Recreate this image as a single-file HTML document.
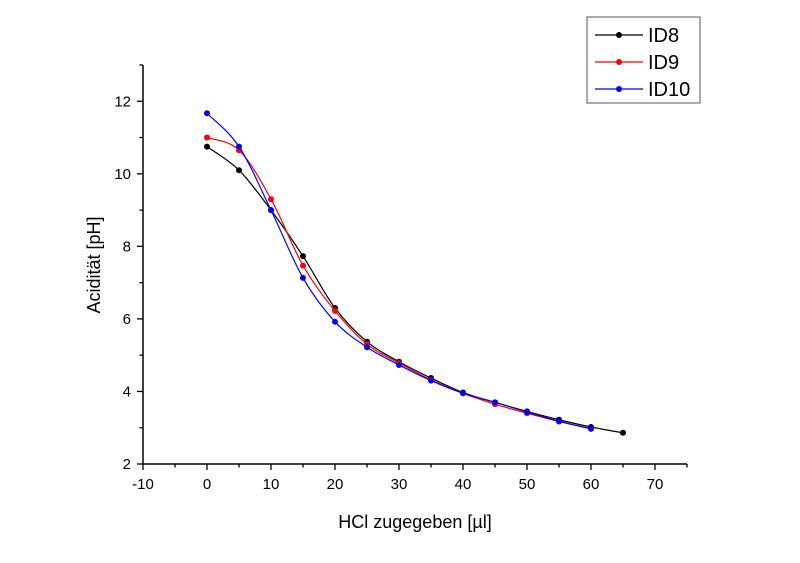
<!DOCTYPE html>
<html><head><meta charset="utf-8"><style>
body{margin:0;background:#fff;}
svg text{font-family:"Liberation Sans",Arial,sans-serif;}
</style></head><body>
<svg id="chart" width="800" height="558" viewBox="0 0 800 558" xmlns="http://www.w3.org/2000/svg">
<g id="axes"></g>
<g id="series"></g>
<g id="legend"></g>
<text x="0" y="0" transform="translate(100,265) rotate(-90)" text-anchor="middle" font-size="18">Acidität [pH]</text>
<text x="415" y="528" text-anchor="middle" font-size="18">HCl zugegeben [µl]</text>
</svg>
<script>
const xTicks = [-10,0,10,20,30,40,50,60,70];
const yTicks = [2,4,6,8,10,12];
const seriesNames = ["ID8","ID9","ID10"];
const seriesColors = ["#000000","#ff0000","#0000ff"];
const xID8 = [0,5,10,15,20,25,30,35,40,45,50,55,60,65];
const yID8 = [10.75,10.1,9.0,7.73,6.3,5.37,4.82,4.37,3.97,3.7,3.45,3.22,3.02,2.86];
const xID9 = [0,5,10,15,20,25,30,35,40,45,50,55,60];
const yID9 = [11.0,10.65,9.3,7.47,6.22,5.3,4.78,4.32,3.95,3.65,3.4,3.17,2.97];
const xID10 = [0,5,10,15,20,25,30,35,40,45,50,55,60];
const yID10 = [11.67,10.75,9.0,7.13,5.92,5.22,4.73,4.3,3.95,3.7,3.43,3.18,2.97];

const NS="http://www.w3.org/2000/svg";
const X0=143, XMIN=-10, XMAX=75, XR=687;
const Y0=464, YMIN=2, YMAX=13, YT=65;
function sx(v){return X0+(v-XMIN)*(XR-X0)/(XMAX-XMIN);}
function sy(v){return Y0-(v-YMIN)*(Y0-YT)/(YMAX-YMIN);}
function mk(tag,attrs,parent){const e=document.createElementNS(NS,tag);for(const k in attrs)e.setAttribute(k,attrs[k]);parent.appendChild(e);return e;}

const axes=document.getElementById('axes');
let l=mk('line',{x1:X0,y1:Y0,x2:XR,y2:Y0,stroke:'#000','stroke-width':1.5},axes);


l=mk('line',{x1:X0,y1:Y0,x2:X0,y2:YT,stroke:'#000','stroke-width':1.5},axes);


for(let v=XMIN;v<=XMAX;v+=5){
  const major=xTicks.includes(v);
  const t=mk('line',{x1:sx(v),y1:Y0,x2:sx(v),y2:Y0+(major?6:3.5),stroke:'#000','stroke-width':1.3},axes);
  
  
}
xTicks.forEach(v=>{
  const t=mk('text',{x:sx(v),y:Y0+25,'text-anchor':'middle','font-size':15},axes);
  t.textContent=v;
  
  
});
for(let v=YMIN;v<=YMAX;v+=1){
  const major=yTicks.includes(v);
  const t=mk('line',{x1:X0,y1:sy(v),x2:X0-(major?6:3.5),y2:sy(v),stroke:'#000','stroke-width':1.3},axes);
  
  
}
yTicks.forEach(v=>{
  const t=mk('text',{x:X0-12,y:sy(v)+5,'text-anchor':'end','font-size':15},axes);
  t.textContent=v;
  
  
});

function smoothPath(pts){
  let d=`M${pts[0][0]},${pts[0][1]}`;
  for(let i=0;i<pts.length-1;i++){
    const p0=pts[Math.max(0,i-1)],p1=pts[i],p2=pts[i+1],p3=pts[Math.min(pts.length-1,i+2)];
    const c1=[p1[0]+(p2[0]-p0[0])/6,p1[1]+(p2[1]-p0[1])/6];
    const c2=[p2[0]-(p3[0]-p1[0])/6,p2[1]-(p3[1]-p1[1])/6];
    d+=` C${c1[0]},${c1[1]} ${c2[0]},${c2[1]} ${p2[0]},${p2[1]}`;
  }
  return d;
}
const series=document.getElementById('series');
const xs=[xID8,xID9,xID10], ys=[yID8,yID9,yID10];
seriesNames.forEach((name,i)=>{
  const g=mk('g',{},series);
  
  
  const pts=xs[i].map((x,j)=>[sx(x),sy(ys[i][j])]);
  const p=mk('path',{d:smoothPath(pts),fill:'none',stroke:seriesColors[i],'stroke-width':1.2},g);
  
  
  pts.forEach(pt=>{
    const c=mk('circle',{cx:pt[0],cy:pt[1],r:3,fill:seriesColors[i]},g);
    
    
  });
});

const legend=document.getElementById('legend');
const box=mk('rect',{x:587,y:17,width:113,height:86,fill:'#fff',stroke:'#555','stroke-width':1},legend);


seriesNames.forEach((name,i)=>{
  const y=35+i*27;
  const g=mk('g',{},legend);
  
  
  mk('line',{x1:595,y1:y,x2:643,y2:y,stroke:seriesColors[i],'stroke-width':1.2},g);
  mk('circle',{cx:619,cy:y,r:3,fill:seriesColors[i]},g);
  const t=mk('text',{x:648,y:y+7,'font-size':20},g);
  t.textContent=name;
});
</script>
</body></html>
